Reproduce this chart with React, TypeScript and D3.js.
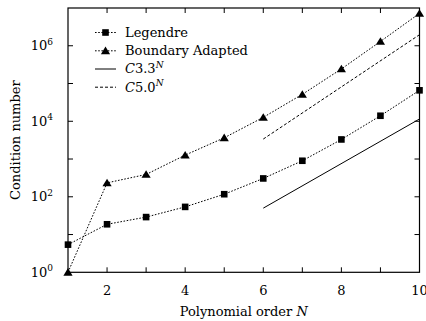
import React from "react";
import * as d3 from "d3";

const orders = [1, 2, 3, 4, 5, 6, 7, 8, 9, 10];
const legendre = [5.4, 18.7, 29, 54, 117, 306, 900, 3300, 14000, 66000];
const boundaryAdapted = [1, 234, 390, 1270, 3650, 12700, 51700, 243000, 1.3e6, 7.2e6];
const refOrders = [6, 10];
const c33 = [50, 11500];
const c50 = [3380, 1.96e6];
const xTicks = [2, 3, 4, 5, 6, 7, 8, 9];
const xTickLabels = [2, 4, 6, 8, 10];
const yExponents = [0, 1, 2, 3, 4, 5, 6, 7];
const yLabelExponents = [0, 2, 4, 6];
const legendLabels = ["Legendre", "Boundary Adapted", "C3.3", "C5.0"];

const W = 426, H = 321;
const L = 68, R = 419.5, T = 8, B = 272.3;
const FONT = "'DejaVu Serif', serif";

export default function App() {
  const x = d3.scaleLinear().domain([1, 10]).range([L, R]);
  const y = d3.scaleLog().domain([1, 1e7]).range([B, T]);
  const line = d3.line<[number, number]>().x(d => x(d[0])).y(d => y(d[1]));

  const leg = orders.map((n, i) => [n, legendre[i]] as [number, number]);
  const ba = orders.map((n, i) => [n, boundaryAdapted[i]] as [number, number]);
  const r33 = refOrders.map((n, i) => [n, c33[i]] as [number, number]);
  const r50 = refOrders.map((n, i) => [n, c50[i]] as [number, number]);

  const dotted = "1.6,1.6";
  const dashed = "3,2";
  const sq = (cx: number, cy: number, k: string) => (
    <rect key={k} x={cx - 3.3} y={cy - 3.3} width={6.6} height={6.6} fill="#000" />
  );
  const tri = (cx: number, cy: number, k: string) => (
    <path key={k} d={`M${cx},${cy - 4.2}L${cx + 4.6},${cy + 3.4}L${cx - 4.6},${cy + 3.4}Z`} fill="#000" />
  );

  const legRows = [32.5, 50.8, 69, 87.2];

  return (
    <svg width={W} height={H} style={{ position: "absolute", left: 0, top: 0 }} fontFamily={FONT}>
      <rect width={W} height={H} fill="#fff" />
      <g clipPath="url(#clip)">
        <path d={line(leg) || ""} fill="none" stroke="#000" strokeWidth={1} strokeDasharray={dotted} />
        <path d={line(ba) || ""} fill="none" stroke="#000" strokeWidth={1} strokeDasharray={dotted} />
        <path d={line(r33) || ""} fill="none" stroke="#000" strokeWidth={1} />
        <path d={line(r50) || ""} fill="none" stroke="#000" strokeWidth={1} strokeDasharray={dashed} />
      </g>
      {xTicks.map(t => (
        <g key={"xt" + t}>
          <line x1={x(t)} x2={x(t)} y1={B} y2={B - 5} stroke="#000" />
          <line x1={x(t)} x2={x(t)} y1={T} y2={T + 5} stroke="#000" />
        </g>
      ))}
      {yExponents.slice(1, -1).map(e => (
        <g key={"yt" + e}>
          <line x1={L} x2={L + 5} y1={y(Math.pow(10, e))} y2={y(Math.pow(10, e))} stroke="#000" />
          <line x1={R} x2={R - 5} y1={y(Math.pow(10, e))} y2={y(Math.pow(10, e))} stroke="#000" />
        </g>
      ))}
      <rect x={L} y={T} width={R - L} height={B - T} fill="none" stroke="#000" strokeWidth={1.2} />
      {leg.map((d, i) => sq(x(d[0]), y(d[1]), "s" + i))}
      {ba.map((d, i) => tri(x(d[0]), y(d[1]), "t" + i))}
      {xTickLabels.map(t => (
        <text key={"xl" + t} x={x(t)} y={295} textAnchor="middle" fontSize={13}>{t}</text>
      ))}
      {yLabelExponents.map(e => (
        <text key={"yl" + e} x={53} y={y(Math.pow(10, e)) + 4.5} textAnchor="end" fontSize={13}>
          10<tspan dy={-5.5} fontSize={9}>{e}</tspan>
        </text>
      ))}
      <text x={(L + R) / 2} y={316} textAnchor="middle" fontSize={13}>
        Polynomial order <tspan fontStyle="italic">N</tspan>
      </text>
      <text transform={`translate(19.5,${(T + B) / 2}) rotate(-90)`} textAnchor="middle" fontSize={13}>
        Condition number
      </text>
      {legRows.map((ly, i) => (
        <g key={"lg" + i}>
          <line x1={95} x2={116} y1={ly} y2={ly} stroke="#000" strokeWidth={1}
            strokeDasharray={i < 2 ? dotted : i === 3 ? dashed : undefined} />
          {i === 0 && sq(105.5, ly, "ls")}
          {i === 1 && tri(105.5, ly, "lt")}
          <text x={125} y={ly + 4.3} fontSize={13}>
            {i < 2 ? legendLabels[i] : (
              <>
                <tspan fontStyle="italic">C</tspan>{legendLabels[i].slice(1)}
                <tspan dy={-5.5} fontSize={9} fontStyle="italic">N</tspan>
              </>
            )}
          </text>
        </g>
      ))}
      <defs>
        <clipPath id="clip"><rect x={L} y={T} width={R - L} height={B - T} /></clipPath>
      </defs>
    </svg>
  );
}
